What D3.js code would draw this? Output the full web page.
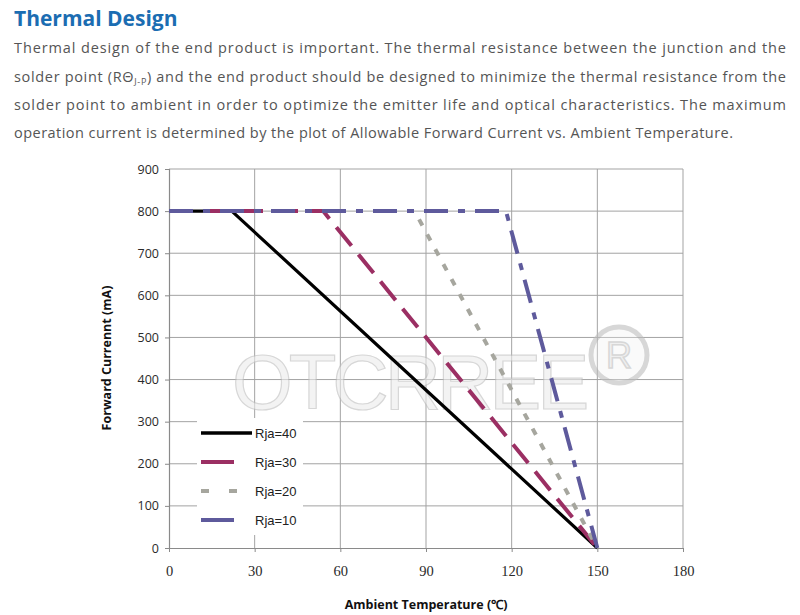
<!DOCTYPE html>
<html><head><meta charset="utf-8">
<script src="https://cdn.jsdelivr.net/npm/d3@7"></script>
<style>
html,body{margin:0;padding:0;background:#fff;}
svg{display:block;}
</style></head>
<body>
<script>
// ---------- data ----------
const titleText = "Thermal Design";
const paragraphLines = [
  "Thermal design of the end product is important. The thermal resistance between the junction and the",
  "solder point (RΘ|J-P|) and the end product should be designed to minimize the thermal resistance from the",
  "solder point to ambient in order to optimize the emitter life and optical characteristics. The maximum",
  "operation current is determined by the plot of Allowable Forward Current vs. Ambient Temperature."
];
const xTicks = [0, 30, 60, 90, 120, 150, 180];
const yTicks = [0, 100, 200, 300, 400, 500, 600, 700, 800, 900];
const seriesNames = ["Rja=40", "Rja=30", "Rja=20", "Rja=10"];
const rja40 = [[0, 800], [22, 800], [150, 0]];
const rja30 = [[0, 800], [54, 800], [150, 0]];
const rja20 = [[0, 800], [86, 800], [150, 0]];
const rja10 = [[0, 800], [118, 800], [150, 0]];
const seriesData = [rja40, rja30, rja20, rja10];
const xTitle = "Ambient Temperature (℃)";
const yTitle = "Forward  Currennt (mA)";
const watermark = "OTCRREE";

// ---------- styles ----------
const colors = ["#000000", "#9B2F63", "#A6A69E", "#5E5A9C"];
const dashes = [null, "24,11", "7,10", "24,10,7,10"];
const widths = [3.2, 4, 4, 4];
const sans = "Open Sans, Lato, sans-serif";

const W = 800, H = 615;
const svg = d3.select("body").append("svg").attr("width", W).attr("height", H);

// title & paragraph
svg.append("text").attr("x", 14).attr("y", 26)
  .attr("font-family", sans).attr("font-weight", "bold")
  .attr("font-size", 21).attr("fill", "#1B6DB2").text(titleText);

const baselines = [53, 82, 110, 138];
paragraphLines.forEach((line, i) => {
  const t = svg.append("text").attr("x", 14).attr("y", baselines[i])
    .attr("font-family", sans).attr("font-size", 14.5)
    .attr("fill", "#555555");
  if (i < 3) t.attr("textLength", 772).attr("lengthAdjust", "spacing");
  else t.attr("textLength", 719).attr("lengthAdjust", "spacing");
  const parts = line.split("|");
  parts.forEach((p, j) => {
    const ts = t.append("tspan").text(p);
    if (j === 1) ts.attr("font-size", 9).attr("dy", 3);
    if (j === 2) ts.attr("dy", -3);
  });
});

// chart
const m = {left: 169, right: 683, top: 169, bottom: 548};
const x = d3.scaleLinear().domain([0, 180]).range([m.left, m.right]);
const y = d3.scaleLinear().domain([0, 900]).range([m.bottom, m.top]);

const g = svg.append("g");
// gridlines
g.selectAll(".hg").data(yTicks.filter(d => d > 0)).enter().append("line")
  .attr("x1", m.left).attr("x2", m.right).attr("y1", d => y(d)).attr("y2", d => y(d))
  .attr("stroke", "#A3A3A3").attr("stroke-width", 1);
g.selectAll(".vg").data(xTicks.filter(d => d > 0)).enter().append("line")
  .attr("y1", m.top).attr("y2", m.bottom).attr("x1", d => x(d)).attr("x2", d => x(d))
  .attr("stroke", "#A3A3A3").attr("stroke-width", 1);

// axes
const xAxis = d3.axisBottom(x).tickValues(xTicks).tickSize(4).tickPadding(14);
const yAxis = d3.axisLeft(y).tickValues(yTicks).tickSize(4).tickPadding(6);
const gx = svg.append("g").attr("transform", `translate(0,${m.bottom})`).call(xAxis);
const gy = svg.append("g").attr("transform", `translate(${m.left},0)`).call(yAxis);
[gx, gy].forEach(a => {
  a.select(".domain").attr("stroke", "#8a8a8a").attr("stroke-width", 1.2);
  a.selectAll(".tick line").attr("stroke", "#8a8a8a");
});
gy.selectAll("text").attr("font-family", sans).attr("font-size", 12.5).attr("fill", "#2a2a2a");
gx.selectAll("text").attr("font-family", "Liberation Serif, DejaVu Serif, serif")
  .attr("font-size", 14.5).attr("fill", "#2a2a2a");
gx.select(".domain").attr("d", `M${m.left},0.5H${m.right}`);
gy.select(".domain").attr("d", `M0.5,${m.bottom}V${m.top}`);

// watermark (under the series)
const wm = svg.append("g").attr("opacity", 0.6);
wm.append("text").attr("x", 232).attr("y", 409).attr("letter-spacing", -4)
  .attr("font-family", "Liberation Sans, sans-serif").attr("font-size", 78)
  .attr("fill", "#ececec").attr("stroke", "#bdbdbd").attr("stroke-width", 1.2).text(watermark);
wm.append("circle").attr("cx", 619).attr("cy", 355).attr("r", 28)
  .attr("fill", "#f2f2f2").attr("fill-opacity", 0.5).attr("stroke", "#bdbdbd").attr("stroke-width", 5);
wm.append("text").attr("x", 619).attr("y", 368).attr("text-anchor", "middle")
  .attr("font-family", "Liberation Sans, sans-serif").attr("font-size", 36)
  .attr("fill", "#e6e6e6").attr("stroke", "#bdbdbd").attr("stroke-width", 1.5).text("R");

// legend background
const lg = svg.append("g");
lg.append("rect").attr("x", 197).attr("y", 418).attr("width", 106).attr("height", 117).attr("fill", "#fff");

// series
const line = d3.line().x(d => x(d[0])).y(d => y(d[1]));
seriesData.forEach((data, i) => {
  svg.append("path").datum(data).attr("d", line).attr("fill", "none")
    .attr("stroke", colors[i]).attr("stroke-width", widths[i])
    .attr("stroke-dasharray", dashes[i]).attr("stroke-linejoin", "round");
});

// legend entries
const legRows = [433, 462, 491, 520];
seriesNames.forEach((name, i) => {
  const len = i === 0 ? 51 : 33;
  lg.append("line").attr("x1", 201).attr("x2", 201 + (i === 2 ? 37 : len))
    .attr("y1", legRows[i]).attr("y2", legRows[i])
    .attr("stroke", colors[i]).attr("stroke-width", i === 0 ? 3.5 : 4)
    .attr("stroke-dasharray", i === 2 ? "8,20" : null);
  lg.append("text").attr("x", 255).attr("y", legRows[i] + 5)
    .attr("font-family", "Liberation Sans, Arial, sans-serif").attr("font-size", 13)
    .attr("fill", "#222").text(name);
});

// axis titles
svg.append("text").attr("x", 426).attr("y", 609).attr("text-anchor", "middle")
  .attr("font-family", sans).attr("font-weight", "bold")
  .attr("font-size", 12.5).attr("fill", "#111").text(xTitle);
svg.append("text").attr("transform", "translate(111,358) rotate(-90)").attr("text-anchor", "middle")
  .attr("font-family", sans).attr("font-weight", "bold")
  .attr("font-size", 12.5).attr("fill", "#111").text(yTitle);
</script>
</body></html>
